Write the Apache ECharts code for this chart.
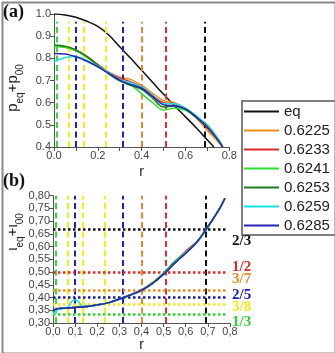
<!DOCTYPE html>
<html><head><meta charset="utf-8">
<script src="https://cdn.jsdelivr.net/npm/echarts@6/dist/echarts.min.js"></script>
<style>html,body{margin:0;padding:0;background:#fff}#c{width:335px;height:353px}</style>
</head><body><div id="c"></div>
<script>
// ---- data ----
const names = ['eq','0.6225','0.6233','0.6241','0.6253','0.6259','0.6285'];
const colors = ['#111111','#f08c1e','#e02a2a','#2ee02e','#1f7a1f','#19e3ea','#2626b0'];

// top panel: p_eq + p_00 vs r
const rEq = [0,0.05,0.1,0.15,0.2,0.25,0.3,0.35,0.4,0.45,0.5,0.55,0.6,0.65,0.7,0.73];
const pEq = [1.0,0.996,0.985,0.967,0.944,0.905,0.852,0.8,0.746,0.692,0.638,0.586,0.536,0.486,0.432,0.40];
const rP = [0,0.05,0.1,0.15,0.2,0.25,0.3,0.35,0.4,0.45,0.5,0.55,0.6,0.65,0.7,0.75,0.77];
const p6225 = [0.858,0.853,0.838,0.81,0.773,0.738,0.715,0.705,0.678,0.642,0.61,0.6,0.572,0.53,0.475,0.422,0.40];
const p6233 = [0.856,0.851,0.836,0.808,0.77,0.735,0.71,0.695,0.67,0.632,0.6,0.595,0.572,0.535,0.485,0.43,0.40];
const p6241 = [0.855,0.85,0.834,0.806,0.768,0.73,0.70,0.68,0.64,0.6,0.567,0.575,0.565,0.535,0.5,0.435,0.40];
const p6253 = [0.86,0.855,0.838,0.808,0.77,0.73,0.698,0.678,0.66,0.62,0.58,0.585,0.57,0.532,0.49,0.43,0.40];
const p6259 = [0.785,0.803,0.808,0.79,0.765,0.735,0.705,0.69,0.67,0.632,0.595,0.595,0.575,0.54,0.497,0.435,0.40];
const p6285 = [0.822,0.82,0.807,0.787,0.762,0.732,0.702,0.682,0.665,0.628,0.59,0.585,0.572,0.535,0.49,0.43,0.40];

// bottom panel: iota_eq + iota_00 vs r
const rI = [0,0.02,0.05,0.07,0.085,0.1,0.115,0.13,0.15,0.2,0.25,0.3,0.35,0.4,0.45,0.5,0.55,0.6,0.65,0.7,0.75,0.777];
const iEq   = [0.348,0.355,0.358,0.359,0.360,0.361,0.362,0.363,0.365,0.371,0.379,0.394,0.41,0.4286,0.456,0.492,0.535,0.574,0.617,0.678,0.745,0.79];
const i6225 = [0.345,0.355,0.358,0.359,0.360,0.361,0.362,0.363,0.365,0.371,0.380,0.395,0.412,0.431,0.46,0.494,0.536,0.575,0.618,0.678,0.745,0.79];
const i6233 = [0.345,0.355,0.358,0.359,0.360,0.361,0.362,0.363,0.365,0.371,0.379,0.394,0.41,0.429,0.457,0.493,0.538,0.582,0.62,0.678,0.745,0.79];
const i6241 = [0.34,0.354,0.358,0.359,0.360,0.361,0.362,0.363,0.365,0.371,0.379,0.394,0.41,0.429,0.458,0.497,0.542,0.578,0.618,0.678,0.745,0.79];
const i6253 = [0.342,0.355,0.358,0.359,0.360,0.361,0.362,0.363,0.365,0.371,0.379,0.394,0.41,0.4286,0.456,0.494,0.54,0.577,0.617,0.678,0.745,0.79];
const i6259 = [0.333,0.352,0.358,0.365,0.384,0.39,0.385,0.368,0.365,0.371,0.379,0.394,0.41,0.4286,0.456,0.493,0.537,0.576,0.617,0.678,0.745,0.79];
const i6285 = [0.35,0.356,0.358,0.359,0.360,0.361,0.362,0.363,0.365,0.371,0.379,0.394,0.41,0.4286,0.456,0.492,0.535,0.574,0.617,0.678,0.745,0.79];

// resonance positions (vertical dashed lines)
const resR = [0.013,0.067,0.098,0.135,0.235,0.316,0.399,0.511,0.69];
const resColors = ['#33dd33','#f5ee10','#2020c0','#f5ee10','#f5ee10','#2020c0','#e8862a','#e03030','#111111'];
// rational surfaces (horizontal dotted lines)
const fracVals = [2/3,1/2,3/7,2/5,3/8,1/3];
const fracLabels = ['2/3','1/2','3/7','2/5','3/8','1/3'];
const fracColors = ['#111111','#e02828','#f08a20','#1a1ab0','#f2e81a','#2ed42e'];
const fracOffsets = [11,-5,-11,-2,3,8];

const topVals = [pEq,p6225,p6233,p6241,p6253,p6259,p6285];
const botVals = [iEq,i6225,i6233,i6241,i6253,i6259,i6285];

const zip = (xs, ys) => xs.map((x,i)=>[x,ys[i]]);
const chart = echarts.init(document.getElementById('c'), null, {renderer:'canvas'});

const axisCommon = {
  axisLine:{show:true,lineStyle:{color:'#555',width:1}},
  axisTick:{show:true,inside:false,length:4,lineStyle:{color:'#555'}},
  splitLine:{show:false},
  axisLabel:{color:'#444',fontSize:11,fontFamily:'Liberation Sans, Arial',margin:3}
};

const series = [];
names.forEach((n,i)=>{
  series.push({name:n,type:'line',xAxisIndex:0,yAxisIndex:0,data:zip(i===0?rEq:rP, topVals[i]),
    smooth:0.35,symbol:'none',showSymbol:false,lineStyle:{color:colors[i],width:1.5},itemStyle:{color:colors[i]},z:3+i});
  series.push({name:n,type:'line',xAxisIndex:1,yAxisIndex:1,data:zip(rI, botVals[i]),
    smooth:0.35,symbol:'none',showSymbol:false,lineStyle:{color:colors[i],width:1.5},itemStyle:{color:colors[i]},z:3+i});
});
// vertical dashed lines (top)
series.push({type:'line',xAxisIndex:0,yAxisIndex:0,data:[],z:2,
  markLine:{silent:true,symbol:'none',animation:false,label:{show:false},
    data:resR.map((x,i)=>[{coord:[x,0.4],lineStyle:{color:resColors[i],type:[6,3.5],width:2}},{coord:[x,0.965]}])}});
// vertical dashed lines (bottom)
series.push({type:'line',xAxisIndex:1,yAxisIndex:1,data:[],z:2,
  markLine:{silent:true,symbol:'none',animation:false,label:{show:false},
    data:resR.map((x,i)=>[{coord:[x,0.30],lineStyle:{color:resColors[i],type:[6,3.5],width:2}},{coord:[x,0.80]}])}});
// horizontal dotted lines
series.push({type:'line',xAxisIndex:1,yAxisIndex:1,data:[],z:2,
  markLine:{silent:true,symbol:'none',animation:false,label:{show:false},
    data:fracVals.map((v,i)=>[
      {coord:[0,v],lineStyle:{color:fracColors[i],type:[2.5,2.5],width:2.5}},
      {coord:[0.79,v]}])}});

const graphics = [
    {type:'rect',left:0,top:0,shape:{x:1,y:1,width:333,height:351},style:{fill:'none',stroke:'#8a8a8a',lineWidth:2},silent:true,z:-1},
    {type:'text',left:3,top:3,style:{text:'(a)',font:'bold 18px "Liberation Serif", "Times New Roman"',fill:'#111'}},
    {type:'text',left:3,top:172,style:{text:'(b)',font:'bold 18px "Liberation Serif", "Times New Roman"',fill:'#111'}},
    {type:'text',x:15,y:88,rotation:Math.PI/2,style:{
      text:'{a|p}{s|eq}{a|+p}{s|00}',align:'center',verticalAlign:'middle',
      rich:{a:{fontSize:15,fontFamily:'Liberation Sans, Arial',fill:'#222',lineHeight:20,verticalAlign:'top'},
            s:{fontSize:10,fontFamily:'Liberation Sans, Arial',fill:'#222',lineHeight:20,verticalAlign:'bottom'}}}},
    {type:'text',x:15,y:232,rotation:Math.PI/2,style:{
      text:'{a|ι}{s|eq}{a|+ι}{s|00}',align:'center',verticalAlign:'middle',
      rich:{a:{fontSize:15,fontFamily:'Liberation Sans, Arial',fill:'#222',lineHeight:20,verticalAlign:'top'},
            s:{fontSize:10,fontFamily:'Liberation Sans, Arial',fill:'#222',lineHeight:20,verticalAlign:'bottom'}}}}
];

chart.setOption({
  animation:false,
  backgroundColor:'#fff',
  grid:[{left:54,top:14,width:175.3,height:133},{left:53,top:195.7,width:177,height:127.6}],
  xAxis:[
    Object.assign({},axisCommon,{gridIndex:0,type:'value',min:0,max:0.8,interval:0.1,
      axisLabel:Object.assign({},axisCommon.axisLabel,{formatter:v=>(Math.round(v*10)%2===0?v.toFixed(1):'')}),
      name:'r',nameLocation:'middle',nameGap:18,nameTextStyle:{color:'#222',fontSize:14,fontFamily:'Liberation Sans, Arial'}}),
    Object.assign({},axisCommon,{gridIndex:1,type:'value',min:0,max:0.8,interval:0.1,
      axisLabel:Object.assign({},axisCommon.axisLabel,{formatter:v=>v.toFixed(1).replace('.',',')}),
      name:'r',nameLocation:'middle',nameGap:15,nameTextStyle:{color:'#222',fontSize:14,fontFamily:'Liberation Sans, Arial'}})
  ],
  yAxis:[
    Object.assign({},axisCommon,{gridIndex:0,type:'value',min:0.4,max:1.0,interval:0.1,
      axisLabel:Object.assign({},axisCommon.axisLabel,{formatter:v=>v.toFixed(1)})}),
    Object.assign({},axisCommon,{gridIndex:1,type:'value',min:0.3,max:0.8,interval:0.05,
      axisLabel:Object.assign({},axisCommon.axisLabel,{formatter:v=>v.toFixed(2).replace('.',',')})})
  ],
  legend:{data:names,orient:'vertical',left:242,top:101,itemWidth:35,itemHeight:14,itemGap:4,
    padding:[3,6,2,1],borderColor:'#808080',borderWidth:2,
    textStyle:{color:'#222',fontSize:15,fontFamily:'Liberation Sans, Arial',lineHeight:15},
    itemStyle:{opacity:0,borderWidth:0},lineStyle:{width:2}},
  graphic:graphics,
  series:series
});

// fraction labels placed next to the end of each dotted line, via the axis scales
const fracGraphics = fracVals.map((v,i)=>{
  const p = chart.convertToPixel({xAxisIndex:1,yAxisIndex:1},[0.8,v]);
  return {type:'text',x:p[0]+2,y:p[1]+fracOffsets[i],z:20,
    style:{text:fracLabels[i],fill:fracColors[i],align:'left',verticalAlign:'middle',
      font:'bold 15px "Liberation Serif", "Times New Roman"'}};
});
chart.setOption({graphic:graphics.concat(fracGraphics)});
</script></body></html>
